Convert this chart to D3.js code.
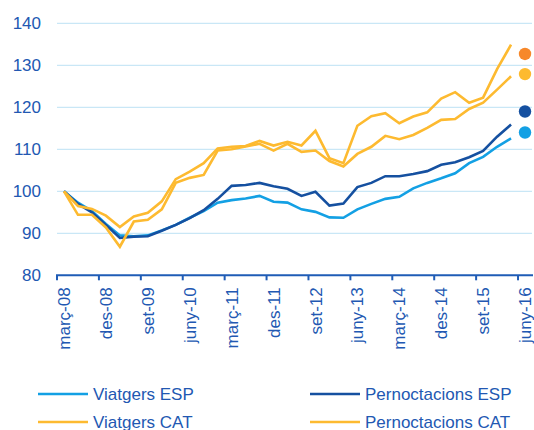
<!DOCTYPE html>
<html>
<head>
<meta charset="utf-8">
<script src="https://cdn.jsdelivr.net/npm/d3@7"></script>
<style>
    body { margin: 0; background: #fff; }
    text { font-family: 'Liberation Sans', Arial, sans-serif; fill: #2258b2; }
</style>
</head>
<body>
<div class="svg-target"></div>
<script>
const quarters = ['març-08','juny-08','set-08','des-08','març-09','juny-09','set-09','des-09',
    'març-10','juny-10','set-10','des-10','març-11','juny-11','set-11','des-11',
    'març-12','juny-12','set-12','des-12','març-13','juny-13','set-13','des-13',
    'març-14','juny-14','set-14','des-14','març-15','juny-15','set-15','des-15',
    'març-16','juny-16'];
const tickLabels = ['març-08','des-08','set-09','juny-10','març-11','des-11',
    'set-12','juny-13','març-14','des-14','set-15','juny-16'];
const yTicks = [80, 90, 100, 110, 120, 130, 140];

const viatgersEsp = [100, 97.3, 95.3, 92.2, 89.5, 89.3, 89.5, 90.7, 92, 93.7, 95.3, 97.3,
    97.9, 98.3, 98.9, 97.5, 97.3, 95.7, 95.1, 93.8, 93.7, 95.7, 97, 98.2,
    98.7, 100.7, 102, 103.1, 104.3, 106.7, 108.2, 110.6, 112.6];
const pernoctacionsEsp = [100, 97, 95, 92, 88.9, 89.2, 89.3, 90.6, 92, 93.6, 95.5, 98.2,
    101.3, 101.5, 102, 101.2, 100.6, 98.9, 99.9, 96.6, 97.1, 101, 102, 103.6,
    103.6, 104.1, 104.8, 106.3, 106.9, 108.1, 109.6, 113, 115.9];
const viatgersCat = [100, 94.4, 94.4, 91.4, 86.8, 92.8, 93.2, 95.7, 102, 103.2, 103.9, 109.7,
    110, 110.7, 111.3, 109.7, 111.3, 109.4, 109.7, 107.2, 105.9, 108.9, 110.6, 113.2,
    112.4, 113.4, 115.1, 117, 117.2, 119.6, 121.1, 124.2, 127.4];
const pernoctacionsCat = [100, 96.5, 95.8, 94.2, 91.5, 94, 94.9, 97.6, 102.9, 104.7, 106.7, 110.2,
    110.6, 110.8, 112, 110.9, 111.8, 110.9, 114.4, 107.9, 106.7, 115.6, 117.9, 118.6,
    116.2, 117.8, 118.8, 122.1, 123.6, 121.1, 122.3, 129.1, 134.9];

// latest values shown as dots at juny-16
const dotValues = [132.7, 127.9, 119, 114];
const dotColors = ['#f7882a', '#fdba30', '#1550a0', '#13a0e4'];

const series = [
    { name: 'Viatgers ESP', values: viatgersEsp, color: '#13a0e4' },
    { name: 'Pernoctacions ESP', values: pernoctacionsEsp, color: '#1550a0' },
    { name: 'Viatgers CAT', values: viatgersCat, color: '#fdba30' },
    { name: 'Pernoctacions CAT', values: pernoctacionsCat, color: '#fdba30' }
];

const w = 534;
const h = 430;

const drawGraph = () => {
    const svg = d3.select('.svg-target')
        .append('svg')
        .attr('width', w)
        .attr('height', h);

    const xScale = d3.scaleBand()
        .domain(quarters)
        .range([57, 532]);

    const yScale = d3.scaleLinear()
        .domain([80, 140])
        .range([275.3, 23.3]);

    // grid
    svg.append('g')
        .selectAll('line')
        .data(yTicks.slice(1))
        .enter()
        .append('line')
            .attr('x1', 57)
            .attr('x2', 532)
            .attr('y1', d => yScale(d))
            .attr('y2', d => yScale(d))
            .attr('stroke', '#c9e7f6')
            .attr('stroke-width', 1.2);

    // y labels
    svg.append('g')
        .selectAll('text')
        .data(yTicks)
        .enter()
        .append('text')
            .attr('x', 41)
            .attr('y', d => yScale(d))
            .attr('dy', '0.36em')
            .attr('text-anchor', 'end')
            .style('font-size', '17px')
            .text(d => d);

    // x axis
    const xAxis = d3.axisBottom(xScale)
        .tickValues(tickLabels)
        .tickSize(0)
        .tickPadding(0);

    const gx = svg.append('g')
        .attr('transform', `translate(0, ${yScale(80)})`)
        .call(xAxis);
    gx.select('.domain').remove();
    gx.selectAll('text')
        .attr('transform', 'rotate(-90)')
        .attr('x', -12)
        .attr('y', 0)
        .attr('dy', '0.36em')
        .attr('text-anchor', 'end')
        .style('font-size', '17px')
        .style('font-family', null)
        .attr('fill', null);

    svg.append('line')
        .attr('x1', 56)
        .attr('x2', 533)
        .attr('y1', yScale(80))
        .attr('y2', yScale(80))
        .attr('stroke', '#1f5cb6')
        .attr('stroke-width', 2);

    svg.append('g')
        .selectAll('line')
        .data(tickLabels)
        .enter()
        .append('line')
            .attr('x1', d => xScale(d))
            .attr('x2', d => xScale(d))
            .attr('y1', yScale(80))
            .attr('y2', yScale(80) + 5)
            .attr('stroke', '#1f5cb6')
            .attr('stroke-width', 2);

    // lines
    const line = d3.line()
        .x((d, i) => xScale(quarters[i]) + xScale.bandwidth() / 2)
        .y(d => yScale(d));

    svg.append('g')
        .selectAll('path')
        .data(series)
        .enter()
        .append('path')
            .attr('d', d => line(d.values))
            .attr('fill', 'none')
            .attr('stroke', d => d.color)
            .attr('stroke-width', 2.6)
            .attr('stroke-linejoin', 'miter');

    // dots
    svg.append('g')
        .selectAll('circle')
        .data(dotValues)
        .enter()
        .append('circle')
            .attr('cx', xScale('juny-16') + xScale.bandwidth() / 2)
            .attr('cy', d => yScale(d))
            .attr('r', 6.2)
            .attr('fill', (d, i) => dotColors[i]);

    // legend
    const legend = svg.append('g')
        .selectAll('g')
        .data(series)
        .enter()
        .append('g')
            .attr('transform', (d, i) => `translate(${i % 2 ? 310 : 38}, ${i < 2 ? 394 : 422})`);

    legend.append('line')
        .attr('x1', 0)
        .attr('x2', 50)
        .attr('stroke', d => d.color)
        .attr('stroke-width', 2.6);

    legend.append('text')
        .attr('x', 55)
        .attr('dy', '0.36em')
        .style('font-size', '17px')
        .text(d => d.name);
};

drawGraph();
</script>
</body>
</html>
